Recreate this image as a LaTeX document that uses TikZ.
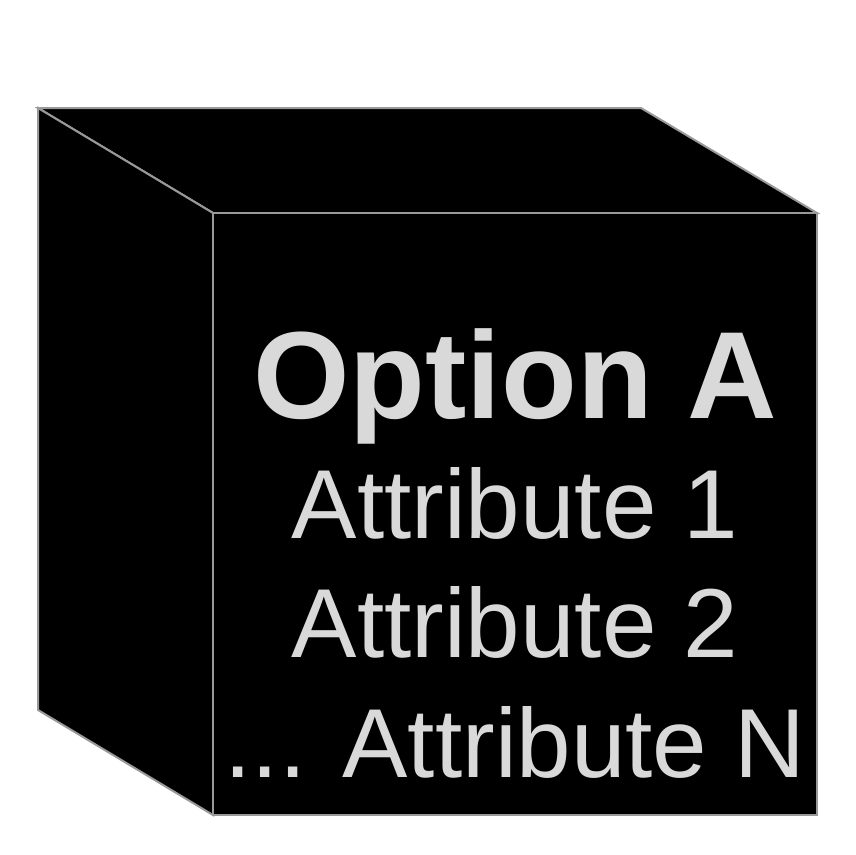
\documentclass[tikz,border=0pt]{standalone}
\usepackage{fontspec}
\setmainfont{Liberation Sans}
\usepackage{xcolor}
\usepackage{pdfrender}
\usepackage{tikz}
\usetikzlibrary{positioning}
\definecolor{edgegrey}{HTML}{999999}
\definecolor{textfill}{HTML}{D9D9D9}
\definecolor{textline}{HTML}{595959}
\newcommand{\outlined}[1]{\textpdfrender{TextRenderingMode=FillStroke,
  LineWidth=2pt, StrokeColor=textline, FillColor=textfill}{#1}}
\tikzset{
  % ---- cube faces -----------------------------------------------------
  cface/.style={draw=edgegrey, line width=2pt, fill=black, line join=miter},
  % ---- labels ---------------------------------------------------------
  ctitle/.style={anchor=base, inner sep=0pt, text=textfill,
    font=\fontsize{124}{124}\selectfont\bfseries},
  cattr/.style={anchor=base, inner sep=0pt, text=textfill,
    font=\fontsize{98}{98}\selectfont},
}
\begin{document}
\begin{tikzpicture}[x=1pt, y=-1pt]

\useasboundingbox (0,0) rectangle (855,855);

\def\midx{515}     % centre of the front face

% ---- cube -----------------------------------------------------------
\draw[cface] (38,108) -- (641,108) -- (817,213) -- (213,213) -- cycle;
\draw[cface] (38,108) -- (213,213) -- (213,815) -- (38,710) -- cycle;
\draw[cface] (213,213) rectangle (817,815);

% ---- option and its attributes --------------------------------------
\node[ctitle] (option) at (\midx, 418) {\outlined{Option A}};
\node[cattr] (attrone) at (\midx, 538) {\outlined{Attribute 1}};
\node[cattr] (attrtwo) at (\midx, 657) {\outlined{Attribute 2}};
\node[cattr] (attrn) at (\midx, 777) {\outlined{... Attribute N}};

\end{tikzpicture}
\end{document}
